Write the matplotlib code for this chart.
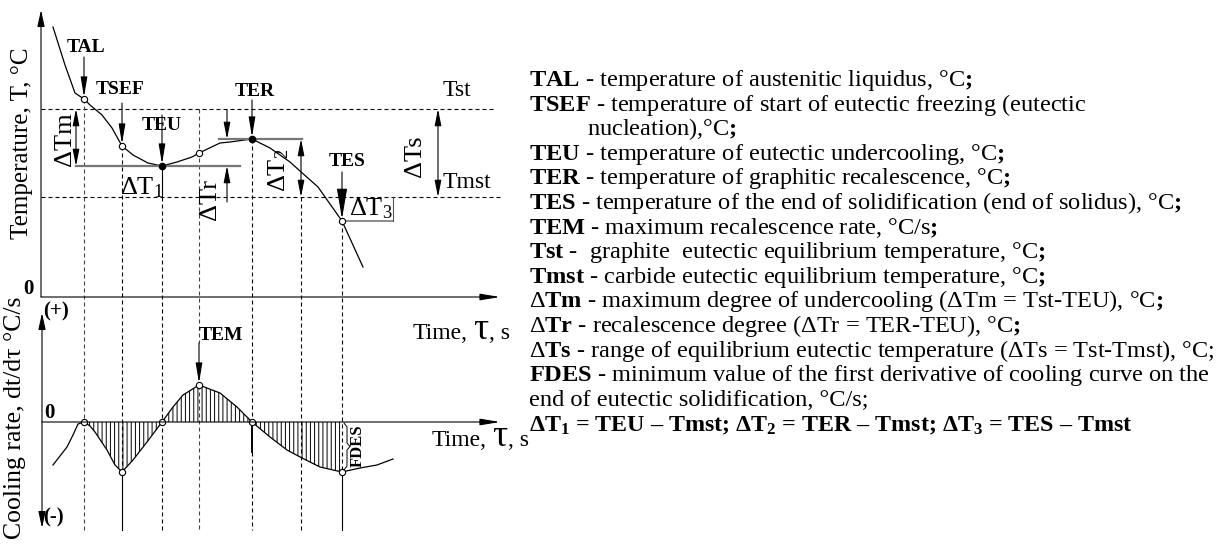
import matplotlib
matplotlib.use("Agg")
import matplotlib.pyplot as plt
import numpy as np

plt.rcParams['font.family'] = ['Liberation Serif', 'DejaVu Serif']
plt.rcParams['mathtext.fontset'] = 'custom'
plt.rcParams['mathtext.rm'] = 'Liberation Serif'
plt.rcParams['mathtext.it'] = 'Liberation Serif:italic'
plt.rcParams['mathtext.bf'] = 'Liberation Serif:bold'
plt.rcParams['hatch.linewidth'] = 0.7

# schematic cooling curve (time in sheet units, temperature above the time axis)
tau = [53, 65, 75, 84, 90, 102, 112, 122, 133, 148, 162, 177, 192, 199, 220, 230, 252, 270, 290, 300, 318, 342, 363]
temp = [270, 232, 204, 198, 192, 182, 169, 151, 142, 134, 131, 135, 140, 144, 154, 155, 158, 149, 135, 126, 110, 76, 30]

# first derivative (cooling rate) curve
tau_rate = [53, 67, 73, 78, 84, 90, 95, 107, 115, 122, 133, 147, 162, 173, 183, 199, 220, 237,
            252, 270, 287, 302, 320, 342, 360, 377, 393]
rate = [-43, -25, -13, -2, 0, -4, -10, -28, -43, -50, -38, -20, 0, 15, 27, 37, 29, 15,
        0, -15, -28, -36, -45, -50, -46, -43, -37]

# characteristic points
key_tau = {'TAL': 84, 'TSEF': 122, 'TEU': 162, 'TEM': 199, 'TER': 252, 'dT2': 301, 'TES': 342}
key_temp = {'TAL': 198, 'TSEF': 151, 'TEU': 131, 'mid': 144, 'TER': 158, 'TES': 76}
key_rate = {'TAL': 0, 'TSEF': -50, 'TEU': 0, 'TEM': 37, 'TER': 0, 'TES': -50}
T_st = 188
T_mst = 100

legend_lines = [
    r"$\mathbf{TAL}$ - temperature of austenitic liquidus, °C$\mathbf{;}$",
    r"$\mathbf{TSEF}$ - temperature of start of eutectic freezing (eutectic",
    r"nucleation),°C$\mathbf{;}$",
    r"$\mathbf{TEU}$ - temperature of eutectic undercooling, °C$\mathbf{;}$",
    r"$\mathbf{TER}$ - temperature of graphitic recalescence, °C$\mathbf{;}$",
    r"$\mathbf{TES}$ - temperature of the end of solidification (end of solidus), °C$\mathbf{;}$",
    r"$\mathbf{TEM}$ - maximum recalescence rate, °C/s$\mathbf{;}$",
    r"$\mathbf{Tst}$ -  graphite  eutectic equilibrium temperature, °C$\mathbf{;}$",
    r"$\mathbf{Tmst}$ - carbide eutectic equilibrium temperature, °C$\mathbf{;}$",
    r"Δ$\mathbf{Tm}$ - maximum degree of undercooling (ΔTm = Tst-TEU), °C$\mathbf{;}$",
    r"Δ$\mathbf{Tr}$ - recalescence degree (ΔTr = TER-TEU), °C$\mathbf{;}$",
    r"Δ$\mathbf{Ts}$ - range of equilibrium eutectic temperature (ΔTs = Tst-Tmst), °C;",
    r"$\mathbf{FDES}$ - minimum value of the first derivative of cooling curve on the",
    r"end of eutectic solidification, °C/s;",
]
last_line = r"ΔT$_\mathbf{1}$ = TEU – Tmst; ΔT$_\mathbf{2}$ = TER – Tmst; ΔT$_\mathbf{3}$ = TES – Tmst"

fig = plt.figure(figsize=(12.16, 5.47), dpi=100)
ax = fig.add_axes([0, 0, 1, 1])
ax.set_xlim(0, 1216)
ax.set_ylim(547, 0)
ax.axis('off')
renderer = fig.canvas.get_renderer()

Y_T0 = 297   # time axis of the temperature panel
Y_R0 = 422   # zero line of the rate panel
X0 = 41
BOT = 530
DASH = (0, (3.6, 2.7))
GRAY = '#777777'


def yT(v):
    return Y_T0 - np.asarray(v, dtype=float)


def yR(v):
    return Y_R0 - np.asarray(v, dtype=float)


def arrow(x0, y0, x1, y1, style='-|>', hl=1.2, hw=0.2, lw=0.8):
    ax.annotate('', xy=(x1, y1), xytext=(x0, y0),
                arrowprops=dict(arrowstyle=f'{style},head_length={hl},head_width={hw}',
                                lw=lw, color='k', shrinkA=0, shrinkB=0, mutation_scale=10))


def vline(x, y0, y1, ls='-', lw=0.8, c='k'):
    ax.plot([x, x], [y0, y1], ls=ls, lw=lw, color=c)


def hline(y, x0, x1, ls='-', lw=0.8, c='k'):
    ax.plot([x0, x1], [y, y], ls=ls, lw=lw, color=c)


# axes
arrow(X0, Y_T0, X0, 10, hl=1.0, hw=0.22)
arrow(X0, Y_T0, 500, Y_T0, hl=1.2, hw=0.2)
arrow(X0 + 1, 313, X0 + 1, 528, style='<|-|>', hl=1.0, hw=0.22)
arrow(X0 + 1, Y_R0, 500, Y_R0, hl=1.2, hw=0.2)

# equilibrium levels
hline(yT(T_st), X0, 493, ls=DASH)
hline(yT(T_mst), X0, 503, ls=DASH)

# curves
ax.plot(tau, yT(temp), color='k', lw=0.9)
ax.plot(tau_rate, yR(rate), color='k', lw=0.9)

tr = np.array(tau_rate)
rr = np.array(rate)
m = (tr >= key_tau['TAL']) & (tr <= key_tau['TES'])
ax.fill_between(tr[m], yR(rr[m]), Y_R0, facecolor='none', edgecolor='k', hatch='||||', lw=0)

# guide lines
tk = key_tau
vline(tk['TAL'], yT(key_temp['TAL']), BOT, ls=DASH, c='#444444')
vline(tk['TSEF'], yT(key_temp['TSEF']), yR(key_rate['TSEF']), ls=DASH)
vline(tk['TSEF'], yR(key_rate['TSEF']), BOT)
vline(tk['TEU'], yT(key_temp['TEU']), yT(T_mst))
vline(tk['TEU'], yT(T_mst), BOT, ls=DASH)
vline(tk['TEM'], yT(T_st), 343, ls=DASH, c='#444444')
vline(tk['TEM'], yR(key_rate['TEM']), BOT, ls=DASH, c='#444444')
vline(tk['TER'], yT(key_temp['TER']), Y_R0, ls=DASH)
vline(tk['TER'], Y_R0, 452, lw=1.4)
vline(tk['TER'], 452, BOT, ls=DASH)
vline(tk['dT2'], yT(T_mst), BOT, ls=DASH)
vline(tk['TES'], yT(key_temp['TES']), yR(key_rate['TES']), ls=DASH)
vline(tk['TES'], yR(key_rate['TES']), BOT)

# level lines of TEU, TER, TES
hline(yT(key_temp['TEU']), 76, 240, lw=1.6, c=GRAY)
hline(yT(key_temp['TER']), 219, 302, lw=1.6, c=GRAY)
hline(yT(key_temp['TES']), tk['TES'], 393, lw=1.2, c=GRAY)
vline(393, yT(T_mst), yT(key_temp['TES']), lw=0.8, c='#555555')

# markers
open_pts = ['TAL', 'TSEF', 'TES']
ax.plot([tk[k] for k in open_pts], yT([key_temp[k] for k in open_pts]), 'o', ms=4.5,
        mfc='white', mec='k', mew=0.8)
ax.plot([tk['TEM']], yT([key_temp['mid']]), 'o', ms=4.5, mfc='white', mec='k', mew=0.8)
ax.plot([tk['TEU'], tk['TER']], yT([key_temp['TEU'], key_temp['TER']]), 'o', ms=4.5,
        mfc='k', mec='k')
rk = ['TAL', 'TSEF', 'TEU', 'TEM', 'TER', 'TES']
ax.plot([tk[k] for k in rk], yR([key_rate[k] for k in rk]), 'o', ms=4.5,
        mfc='white', mec='k', mew=0.8)

# pointer arrows
arrow(tk['TAL'], 57, tk['TAL'], yT(key_temp['TAL']) - 2)
arrow(tk['TSEF'], 103, tk['TSEF'], yT(key_temp['TSEF']) - 2)
arrow(tk['TEU'], 115, tk['TEU'], yT(key_temp['TEU']) - 2)
arrow(tk['TER'], 100, tk['TER'], yT(key_temp['TER']) - 2)
arrow(tk['TES'], 172, tk['TES'], yT(key_temp['TES']) - 2, hl=1.9, hw=0.32)
arrow(tk['TEM'], 343, tk['TEM'], yR(key_rate['TEM']) - 2)

# dimension arrows
arrow(76, yT(T_st), 76, yT(key_temp['TEU']), style='<|-|>', hl=1.0, hw=0.2)
arrow(227, 110, 227, yT(key_temp['TER']), hl=1.0, hw=0.2)
arrow(227, 202, 227, yT(key_temp['TEU']), hl=1.0, hw=0.2)
arrow(tk['dT2'], yT(key_temp['TER']), tk['dT2'], yT(T_mst), style='<|-|>', hl=1.0, hw=0.2)
arrow(438, yT(T_st), 438, yT(T_mst), style='<|-|>', hl=1.0, hw=0.2)

# FDES brace
bx = [344, 347, 347, 350, 347, 347, 344]
by = [423, 427, 443, 446.5, 450, 466, 470]
ax.plot(bx, by, color='k', lw=0.7)

# labels on the diagram
bold = dict(fontweight='bold', ha='center', va='center', fontsize=14)
ax.text(86, 47, 'TAL', **bold)
ax.text(120, 89, 'TSEF', **bold)
ax.text(162, 125, 'TEU', **bold)
ax.text(255, 92, 'TER', **bold)
ax.text(347, 161, 'TES', **bold)
ax.text(221, 336, 'TEM', **bold)
ax.text(358, 446, 'FDES', rotation=90, **dict(bold, fontsize=12))
ax.text(28, 289, '0', **dict(bold, fontsize=15))
ax.text(49, 413, '0', **dict(bold, fontsize=15))
ax.text(56, 311, '(+)', **dict(bold, fontsize=15))
ax.text(53, 517, '(-)', **dict(bold, fontsize=15))

reg = dict(ha='center', va='center', fontsize=19)
ax.text(65, 139, 'ΔTm', rotation=90, **reg)
ax.text(210, 200, 'ΔTr', rotation=90, **reg)
ax.text(279, 170, r'ΔT$_\mathrm{2}$', rotation=90, **reg)
ax.text(415, 156, 'ΔTs', rotation=90, **reg)
ax.text(142, 188, r'ΔT$_\mathrm{1}$', **reg)
ax.text(371, 209, r'ΔT$_\mathrm{3}$', **reg)
ax.text(443, 90, 'Tst', ha='left', va='center', fontsize=17)
ax.text(443, 183, 'Tmst', ha='left', va='center', fontsize=17)

ax.text(22, 143, 'Temperature, T, °C', rotation=90, ha='center', va='center', fontsize=18)
ax.text(15, 418, 'Cooling rate, dt/dτ °C/s', rotation=90, ha='center', va='center', fontsize=18.5)


# "Time, τ, s" labels
def time_label(x, y):
    t1 = ax.text(x, y, 'Time,', ha='left', va='baseline', fontsize=17)
    w1 = t1.get_window_extent(renderer).width
    t2 = ax.text(x + w1 + 5, y, 'τ', ha='left', va='baseline', fontsize=27)
    w2 = t2.get_window_extent(renderer).width
    ax.text(x + w1 + 5 + w2 + 1, y, ', s', ha='left', va='baseline', fontsize=17)


time_label(413, 339)
time_label(432, 446)

# explanation text
LX = 529
RIGHT = 1212
ly = 86
FS = 17.6
for i, s in enumerate(legend_lines):
    x = LX + 58 if i == 2 else LX
    t = ax.text(x, ly + i * 24.6, s, ha='left', va='baseline', fontsize=FS)
    bb = t.get_window_extent(renderer)
    if bb.x1 > RIGHT:
        t.set_fontsize(FS * (RIGHT - x) / (bb.x1 - x))
ax.text(LX, ly + len(legend_lines) * 24.6 + 1, last_line, ha='left', va='baseline',
        fontsize=17.3, fontweight='bold')

fig.savefig('out.png', dpi=100)
